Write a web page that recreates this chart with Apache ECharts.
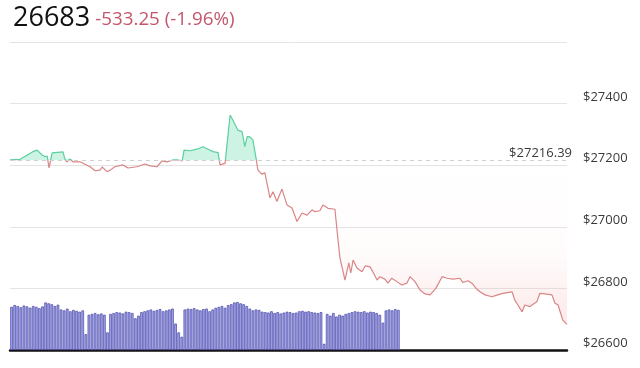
<!DOCTYPE html>
<html>
<head>
<meta charset="utf-8">
<script src="https://cdn.jsdelivr.net/npm/echarts@6/dist/echarts.min.js"></script>
<style>
html,body{margin:0;padding:0;background:#fff;}
#c{width:640px;height:368px;}
</style>
</head>
<body>
<div id="c"></div>
<script>
// ---- data ----
const lastPrice = '26683';
const changeText = '-533.25 (-1.96%)';
const refPrice = 27216.39;
const refLabel = '$27216.39';
const yTicks = [26600, 26800, 27000, 27200, 27400, 27600];

// minutes since start of the 24h window
const times = [0,26,59,70,83,90,96,101,109,111,137,142,147,155,163,181,207,220,233,238,251,259,271,292,305,328,349,362,380,393,406,421,434,445,450,465,483,499,512,525,538,543,556,561,569,576,589,600,607,613,620,628,636,641,651,659,672,680,690,703,716,729,742,755,768,781,788,801,809,822,840,848,853,866,876,881,887,897,910,918,931,938,949,956,969,977,987,1000,1013,1026,1034,1047,1060,1073,1086,1101,1117,1130,1145,1163,1171,1184,1194,1207,1215,1228,1246,1261,1274,1298,1305,1313,1324,1331,1344,1362,1370,1383,1401,1409,1417,1429,1440];
const prices = [27217,27219,27244,27249,27233,27228,27230,27191,27240,27243,27243,27220,27211,27220,27211,27211,27195,27182,27184,27194,27179,27184,27195,27201,27191,27195,27204,27198,27195,27214,27211,27217,27217,27214,27249,27247,27252,27260,27252,27244,27241,27201,27206,27211,27363,27347,27314,27309,27260,27293,27292,27282,27223,27184,27171,27175,27094,27114,27082,27123,27071,27061,27017,27045,27038,27055,27049,27052,27071,27060,27057,26957,26899,26827,26883,26850,26892,26866,26854,26873,26870,26854,26827,26838,26830,26817,26833,26822,26811,26817,26838,26822,26795,26782,26779,26800,26838,26833,26830,26833,26819,26825,26817,26797,26789,26779,26773,26779,26784,26789,26762,26746,26724,26746,26741,26757,26784,26782,26779,26752,26746,26697,26683];

// volume bars (one per 8-minute bucket)
const volumeBucketMinutes = 8;
const volumes = [98,102,100,97,101,99,96,100,98,95,99,
108,106,104,100,103,
92,90,94,88,91,89,87,90,
36,
80,82,84,81,83,80,
40,
82,84,86,85,83,87,86,84,
72,78,
86,88,90,92,89,91,93,88,90,92,94,
60,40,30,
92,94,93,95,92,90,93,94,88,92,96,
98,100,96,102,104,
108,109,106,104,100,
94,90,92,91,
87,86,85,88,84,86,83,85,87,86,84,85,88,89,87,88,86,85,84,86,
14,
82,78,84,76,80,78,82,
84,86,88,87,86,88,85,87,86,84,80,62,90,
92,90,93,91];

// ---- build ----
const Y_MIN = 26600, Y_MAX = 27600;
const GRID = {left: 10, right: 73, top: 42, bottom: 18};
const CH = 368;
const lineData = times.map((t, i) => [t, prices[i]]);
const upData = times.map((t, i) => [t, Math.max(prices[i], refPrice)]);
const dnData = times.map((t, i) => [t, Math.min(prices[i], refPrice)]);
const volData = volumes.map((v, i) => [i * volumeBucketMinutes + volumeBucketMinutes / 2, v]);

const GREEN = '#5ccf9d';
const RED = '#d98585';
const split = (Y_MAX - refPrice) / (Y_MAX - Y_MIN);
const lineColor = new echarts.graphic.LinearGradient(0, GRID.top, 0, CH - GRID.bottom, [
  {offset: 0, color: GREEN}, {offset: split, color: GREEN},
  {offset: split, color: RED}, {offset: 1, color: RED}], true);
const redFill = new echarts.graphic.LinearGradient(0, GRID.top, 0, CH - GRID.bottom, [
  {offset: 0, color: 'rgba(245,170,170,0)'},
  {offset: split, color: 'rgba(245,170,170,0)'},
  {offset: split + 0.3, color: 'rgba(245,170,170,0.06)'},
  {offset: 1, color: 'rgba(245,160,160,0.45)'}], true);

const chart = echarts.init(document.getElementById('c'), null, {renderer: 'canvas'});
chart.setOption({
  animation: false,
  backgroundColor: '#fff',
  title: {
    left: 8, top: 0,
    text: '{a|' + lastPrice + '} {b|' + changeText + '}',
    textStyle: {
      fontWeight: 'normal',
      rich: {
        a: {fontFamily: 'Open Sans', fontSize: 27, color: '#111', fontWeight: 'normal'},
        b: {fontFamily: 'Open Sans', fontSize: 18.8, color: '#c4566b', fontWeight: 'normal', padding: [3, 0, 0, 0]}
      }
    }
  },
  grid: GRID,
  xAxis: {
    type: 'value', min: 0, max: 1440,
    axisLine: {show: true, onZero: false, lineStyle: {color: '#111', width: 2.5}},
    axisTick: {show: false},
    axisLabel: {show: false},
    splitLine: {show: false}
  },
  yAxis: [{
    type: 'value', position: 'right', min: Y_MIN, max: Y_MAX, interval: 200,
    axisLine: {show: false}, axisTick: {show: false},
    splitLine: {lineStyle: {color: '#e4e4e4', width: 1}},
    axisLabel: {
      margin: 16, color: '#3a3a3a', fontFamily: 'Open Sans', fontSize: 13, verticalAlign: 'bottom',
      formatter: v => (yTicks.indexOf(v) >= 0 && v < Y_MAX) ? '$' + v : ''
    }
  }, {
    type: 'value', min: 0, max: 700, show: false, splitLine: {show: false}
  }],
  series: [
    {type: 'line', data: upData, symbol: 'none', lineStyle: {opacity: 0}, silent: true,
     areaStyle: {color: 'rgba(110,222,175,0.5)', origin: refPrice}},
    {type: 'line', data: dnData, symbol: 'none', lineStyle: {opacity: 0}, silent: true,
     areaStyle: {color: redFill, origin: refPrice}},
    {type: 'line', data: lineData, symbol: 'none', lineStyle: {width: 1.2, color: lineColor},
     markLine: {
       silent: true, symbol: 'none',
       lineStyle: {type: [4, 4], color: '#d0d0d0', width: 1},
       label: {position: 'insideEndTop', formatter: refLabel, color: '#3a3a3a',
               fontFamily: 'Open Sans', fontSize: 13, distance: [-5, 0]},
       data: [{yAxis: refPrice}]
     }},
    {type: 'bar', yAxisIndex: 1, data: volData, barWidth: 2.6,
     itemStyle: {color: '#a2a2ea', borderColor: '#4646a6', borderWidth: 0.7}}
  ]
});
</script>
</body>
</html>
